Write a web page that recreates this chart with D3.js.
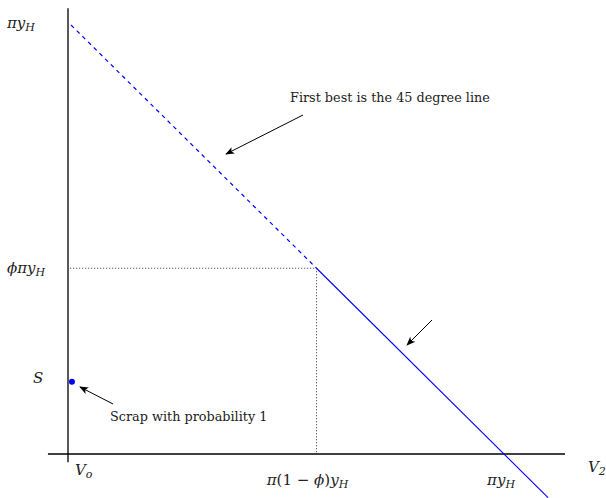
<!DOCTYPE html>
<html>
<head>
<meta charset="utf-8">
<script src="https://cdn.jsdelivr.net/npm/d3@7"></script>
<style>
  body { margin: 0; background: #fff; }
  svg text { font-family: "DejaVu Serif", "Liberation Serif", serif; fill: #222; }
  .math { font-style: italic; }
</style>
</head>
<body>
<div id="chart"></div>
<script>
// values in units of pi*yH (V_o at the origin)
var phi = 0.43;
var scrapValue = 0.167;
var firstBestDashed = [[0.007, 0.993], [1 - phi, phi]];
var firstBestSolid = [[1 - phi, phi], [1.101, -0.101]];
var dottedH = [[0.005, phi], [1 - phi, phi]];
var dottedV = [[1 - phi, phi], [1 - phi, 0]];
var scrapPoint = [0.009, scrapValue];

var width = 606, height = 498;

var x = d3.scaleLinear().domain([0, 1]).range([68, 504]);
var y = d3.scaleLinear().domain([0, 1]).range([454, 22]);

var svg = d3.select("#chart").append("svg")
    .attr("width", width)
    .attr("height", height);

var defs = svg.append("defs");
defs.append("marker")
    .attr("id", "head")
    .attr("viewBox", "0 0 10 10")
    .attr("refX", 9)
    .attr("refY", 5)
    .attr("markerWidth", 9)
    .attr("markerHeight", 9)
    .attr("markerUnits", "userSpaceOnUse")
    .attr("orient", "auto")
    .append("path")
    .attr("d", "M0,1 L10,5 L0,9 L2.5,5 Z")
    .attr("fill", "#000");

var line = d3.line()
    .x(function (d) { return x(d[0]); })
    .y(function (d) { return y(d[1]); });

// axes (plain lines, no ticks)
svg.append("line")
    .attr("x1", x(0)).attr("x2", x(0))
    .attr("y1", y(1.032)).attr("y2", y(-0.019))
    .attr("stroke", "#000").attr("stroke-width", 1.3);
svg.append("line")
    .attr("x1", x(-0.046)).attr("x2", x(1.14))
    .attr("y1", y(0)).attr("y2", y(0))
    .attr("stroke", "#000").attr("stroke-width", 1.3);

// dotted guides
[dottedH, dottedV].forEach(function (seg) {
    svg.append("path")
        .attr("d", line(seg))
        .attr("fill", "none")
        .attr("stroke", "#333")
        .attr("stroke-width", 1)
        .attr("stroke-dasharray", "1,2");
});

// first best line
svg.append("path")
    .attr("d", line(firstBestDashed))
    .attr("fill", "none")
    .attr("stroke", "#0000ff")
    .attr("stroke-width", 1.2)
    .attr("stroke-dasharray", "4,4");
svg.append("path")
    .attr("d", line(firstBestSolid))
    .attr("fill", "none")
    .attr("stroke", "#0000ff")
    .attr("stroke-width", 1.1);

// scrap point
svg.append("circle")
    .attr("cx", x(scrapPoint[0]))
    .attr("cy", y(scrapPoint[1]))
    .attr("r", 3)
    .attr("fill", "#0000ff");

// math label helper: parts = [[text, "sub"|"up"|null], ...]
function mathLabel(px, py, parts, anchor) {
    var t = svg.append("text")
        .attr("class", "math")
        .attr("x", px)
        .attr("y", py)
        .attr("text-anchor", anchor || "start")
        .style("font-size", "15px");
    parts.forEach(function (p) {
        var s = t.append("tspan").text(p[0]);
        if (p[1] === "sub") {
            s.attr("dy", 3).style("font-size", "11px");
        } else if (p[1] === "up") {
            s.style("font-style", "normal");
        }
    });
    return t;
}

// y labels
mathLabel(7, y(1) + 6, [["\u03c0y", null], ["H", "sub"]]);
mathLabel(7, y(phi) + 5, [["\u03d5\u03c0y", null], ["H", "sub"]]);
mathLabel(33, y(scrapValue) + 1, [["S", null]]);

// x labels
mathLabel(x(0) + 7, 475, [["V", null], ["o", "sub"]]);
mathLabel(x(1 - phi) - 9, 485,
    [["\u03c0", null], ["(1 \u2212 ", "up"], ["\u03d5", null], [")", "up"], ["y", null], ["H", "sub"]],
    "middle");
mathLabel(x(1) - 3, 485, [["\u03c0y", null], ["H", "sub"]], "middle");
mathLabel(588, 472, [["V", null], ["2", "sub"]]);

// annotations
svg.append("text")
    .attr("x", 290).attr("y", 102)
    .style("font-size", "12.8px")
    .text("First best is the 45 degree line");
svg.append("text")
    .attr("x", 110).attr("y", 421)
    .style("font-size", "12.8px")
    .text("Scrap with probability 1");

var arrows = [
    [[303, 115], [226, 154]],
    [[432, 320], [407, 345]],
    [[113, 404], [80, 387]]
];
arrows.forEach(function (a) {
    svg.append("line")
        .attr("x1", a[0][0]).attr("y1", a[0][1])
        .attr("x2", a[1][0]).attr("y2", a[1][1])
        .attr("stroke", "#000")
        .attr("stroke-width", 1)
        .attr("marker-end", "url(#head)");
});
</script>
</body>
</html>
